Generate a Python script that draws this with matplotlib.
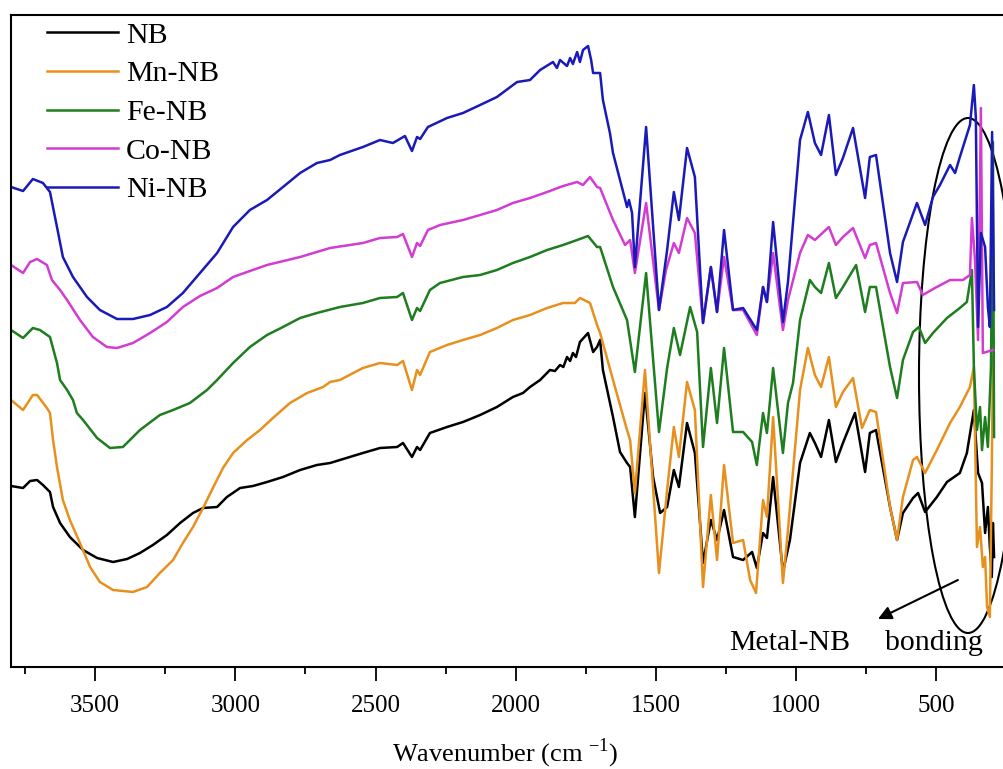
import matplotlib
matplotlib.use("Agg")
import matplotlib.pyplot as plt
from matplotlib.patches import Ellipse
from matplotlib.ticker import MultipleLocator

plt.rcParams['font.family'] = ['Liberation Serif', 'DejaVu Serif']
plt.rcParams['mathtext.fontset'] = 'custom'
plt.rcParams['mathtext.rm'] = 'Liberation Serif'

# ---------------- data (wavenumber in cm-1, transmittance in a.u.) ----------------
wn_nb = [3800, 3757, 3732, 3707, 3686, 3661, 3650, 3625, 3590, 3543, 3493, 3436, 3386, 3340,
         3294, 3244, 3197, 3151, 3115, 3065, 3030, 2983, 2937, 2887, 2830, 2769, 2709, 2662,
         2627, 2545, 2484, 2423, 2402, 2370, 2352, 2341, 2306, 2245, 2188, 2127, 2067, 2010,
         1974, 1949, 1913, 1878, 1860, 1842, 1830, 1817, 1806, 1796, 1785, 1771, 1742, 1724,
         1710, 1699, 1689, 1653, 1628, 1603, 1592, 1575, 1539, 1510, 1485, 1460, 1436, 1418,
         1389, 1361, 1332, 1304, 1282, 1257, 1225, 1189, 1157, 1140, 1118, 1104, 1082, 1047,
         1022, 986, 951, 933, 911, 883, 858, 833, 790, 754, 737, 715, 665, 640, 619, 583, 565,
         540, 498, 462, 416, 391, 366, 351, 337, 326, 316, 309, 302, 298, 294]
t_nb = [181, 179, 186, 187, 182, 175, 160, 144, 130, 117, 109, 105, 108, 114,
        122, 132, 144, 154, 159, 160, 170, 179, 181, 185, 190, 197, 202, 204,
        207, 214, 219, 220, 224, 210, 220, 217, 234, 240, 245, 252, 260, 270,
        274, 280, 287, 297, 296, 302, 300, 310, 306, 314, 310, 325, 334, 315,
        320, 327, 297, 250, 215, 204, 200, 150, 274, 190, 154, 160, 197, 180,
        244, 214, 104, 147, 127, 157, 110, 107, 115, 99, 134, 129, 190, 95,
        127, 204, 234, 224, 210, 247, 205, 224, 254, 195, 234, 237, 160, 127, 154, 169, 174,
        155, 170, 185, 194, 214, 257, 194, 184, 134, 160, 120, 90, 144, 110]

wn_mn = [3800, 3757, 3722, 3707, 3672, 3661, 3650, 3636, 3615, 3590, 3554, 3518, 3483, 3436,
         3365, 3315, 3269, 3222, 3187, 3151, 3115, 3080, 3044, 3008, 2958, 2912, 2866, 2805,
         2744, 2687, 2662, 2627, 2545, 2484, 2423, 2402, 2370, 2352, 2341, 2306, 2245, 2188,
         2127, 2067, 2010, 1949, 1888, 1831, 1789, 1771, 1735, 1710, 1699, 1653, 1603, 1592,
         1575, 1539, 1489, 1460, 1436, 1418, 1389, 1361, 1332, 1304, 1282, 1257, 1225, 1189,
         1164, 1143, 1118, 1104, 1082, 1047, 1029, 986, 958, 933, 911, 883, 858, 833, 797,
         765, 737, 715, 665, 640, 619, 583, 569, 540, 498, 451, 416, 380, 366, 355, 344, 334,
         326, 319, 309, 302, 298]
t_mn = [267, 257, 272, 272, 259, 254, 227, 200, 167, 147, 124, 100, 85, 77,
        75, 80, 94, 107, 124, 140, 159, 179, 199, 214, 227, 237, 249, 264,
        274, 280, 285, 287, 299, 304, 302, 306, 277, 297, 292, 315, 322, 327,
        332, 339, 347, 352, 359, 364, 364, 369, 364, 342, 334, 287, 237, 227,
        174, 297, 94, 177, 240, 210, 285, 257, 80, 172, 107, 202, 124, 127,
        87, 74, 167, 150, 250, 84, 137, 277, 319, 292, 280, 310, 260, 275, 289,
        239, 257, 255, 160, 127, 170, 207, 210, 194, 217, 244, 260, 280, 300, 120, 140, 100,
        110, 60, 50, 200, 310]

wn_fe = [3800, 3757, 3722, 3697, 3661, 3636, 3625, 3600, 3579, 3565, 3543, 3493, 3447, 3401,
         3340, 3269, 3222, 3162, 3101, 3065, 3008, 2948, 2887, 2830, 2769, 2709, 2627, 2545,
         2484, 2423, 2402, 2370, 2352, 2341, 2306, 2270, 2188, 2127, 2067, 2010, 1949, 1888,
         1831, 1781, 1742, 1710, 1699, 1653, 1603, 1575, 1535, 1489, 1460, 1436, 1414, 1378,
         1353, 1332, 1304, 1282, 1257, 1225, 1189, 1157, 1140, 1118, 1104, 1082, 1047, 1029,
         1011, 986, 951, 933, 911, 883, 858, 833, 786, 754, 737, 715, 665, 640, 619, 583, 562,
         540, 512, 462, 416, 391, 373, 366, 355, 344, 337, 326, 316, 305, 298, 294]
t_fe = [337, 329, 339, 337, 330, 304, 287, 277, 267, 254, 247, 229, 219, 220,
        237, 252, 257, 264, 277, 287, 304, 320, 332, 340, 349, 354, 360, 364,
        369, 370, 374, 347, 359, 356, 377, 384, 390, 392, 397, 404, 410, 417,
        422, 427, 431, 420, 420, 380, 347, 295, 394, 235, 299, 339, 312, 360,
        335, 220, 299, 244, 319, 235, 235, 225, 202, 254, 234, 299, 214, 264,
        284, 347, 387, 380, 374, 404, 369, 380, 402, 355, 380, 380, 300, 269, 307, 335, 340,
        324, 334, 349, 359, 365, 397, 300, 237, 260, 217, 250, 220, 300, 525, 230]

wn_co = [3800, 3757, 3732, 3707, 3672, 3654, 3625, 3600, 3554, 3508, 3458, 3422, 3365, 3304,
         3244, 3187, 3126, 3065, 3008, 2948, 2887, 2769, 2662, 2545, 2484, 2423, 2402, 2370,
         2352, 2341, 2313, 2270, 2188, 2127, 2067, 2010, 1949, 1888, 1831, 1781, 1760, 1735,
         1710, 1699, 1653, 1610, 1592, 1575, 1535, 1489, 1464, 1436, 1418, 1389, 1361, 1332,
         1304, 1282, 1257, 1225, 1189, 1140, 1118, 1104, 1082, 1047, 1029, 986, 958, 933, 883,
         858, 833, 797, 754, 737, 715, 665, 640, 619, 569, 548, 505, 451, 405, 380, 373, 362,
         351, 341, 334, 298]
t_co = [402, 394, 405, 408, 402, 387, 377, 367, 347, 330, 320, 319, 324, 334,
        345, 360, 371, 379, 390, 396, 402, 410, 419, 424, 429, 430, 433, 410,
        424, 421, 437, 442, 447, 452, 457, 464, 469, 475, 481, 485, 482, 490,
        480, 479, 447, 422, 427, 394, 464, 357, 397, 424, 414, 449, 434, 344,
        400, 355, 410, 357, 357, 332, 380, 365, 414, 337, 367, 414, 432, 427, 440,
        422, 430, 439, 409, 422, 424, 374, 354, 384, 385, 372, 379, 387, 387, 392, 449, 407,
        327, 559, 314, 317]

wn_ni = [3800, 3757, 3722, 3686, 3661, 3636, 3615, 3579, 3529, 3483, 3422, 3365, 3304, 3244,
         3187, 3126, 3065, 3008, 2948, 2887, 2830, 2769, 2709, 2662, 2627, 2545, 2484, 2438,
         2395, 2370, 2352, 2341, 2313, 2245, 2188, 2127, 2067, 1995, 1949, 1913, 1867, 1853,
         1842, 1817, 1806, 1796, 1781, 1771, 1760, 1742, 1731, 1724, 1699, 1689, 1664, 1653,
         1628, 1603, 1596, 1585, 1575, 1535, 1489, 1460, 1436, 1418, 1389, 1361, 1332, 1304,
         1282, 1257, 1225, 1189, 1140, 1118, 1104, 1082, 1047, 1029, 986, 958, 933, 911, 883,
         858, 833, 797, 754, 737, 715, 665, 640, 619, 569, 540, 512, 487, 451, 433, 416, 380,
         366, 359, 351, 341, 326, 316, 309, 301, 294]
t_ni = [480, 476, 488, 484, 475, 440, 410, 390, 370, 357, 348, 348, 352, 360,
        374, 394, 414, 440, 457, 467, 480, 494, 504, 507, 512, 520, 527, 524,
        531, 516, 530, 528, 540, 549, 554, 562, 570, 585, 587, 597, 605, 599,
        607, 601, 609, 603, 615, 605, 617, 621, 607, 594, 594, 567, 534, 514,
        487, 460, 467, 454, 400, 540, 357, 417, 475, 447, 519, 490, 344, 400,
        355, 437, 357, 359, 337, 380, 365, 445, 345, 385, 527, 555, 524, 512, 552,
        492, 509, 539, 469, 510, 512, 414, 385, 425, 464, 442, 470, 482, 502, 494, 510, 542,
        582, 550, 340, 434, 420, 360, 340, 535, 357]

series = [
    ("NB", wn_nb, t_nb, "#000000"),
    ("Mn-NB", wn_mn, t_mn, "#E8901E"),
    ("Fe-NB", wn_fe, t_fe, "#1E7D1E"),
    ("Co-NB", wn_co, t_co, "#D23CD2"),
    ("Ni-NB", wn_ni, t_ni, "#1A1AB8"),
]

# ---------------- figure ----------------
W, H = 1004, 769
fig = plt.figure(figsize=(W / 100, H / 100), dpi=100)
ax = fig.add_axes([11 / W, 1 - 667 / H, (1006.4 - 11) / W, (667 - 15) / H])

for name, wn, t, c in series:
    ax.plot(wn, t, color=c, lw=1.8, label=name)

ax.set_xlim(3800, 250)
ax.set_ylim(0, 652)

ax.xaxis.set_major_locator(MultipleLocator(500))
ax.xaxis.set_minor_locator(MultipleLocator(250))
ax.tick_params(axis='x', which='major', direction='out', length=10, width=1.3,
               labelsize=18, pad=10)
ax.tick_params(axis='x', which='minor', direction='out', length=5, width=1.3)
ax.tick_params(axis='y', which='both', left=False, labelleft=False)
ax.set_xticks([3500, 3000, 2500, 2000, 1500, 1000, 500])
for s in ax.spines.values():
    s.set_linewidth(1.5)

fig.text(505 / W, 1 - 761 / H, r'Wavenumber (cm $^{\mathregular{-1}}$)', fontsize=19,
         ha='center', va='baseline')

leg = ax.legend(loc='upper left', bbox_to_anchor=(47 / W, 1 - 22 / H),
                bbox_transform=fig.transFigure, frameon=False, fontsize=21.5,
                handlelength=2.37, handletextpad=0.27, labelspacing=0.39,
                borderpad=0, borderaxespad=0)
for ln in leg.get_lines():
    ln.set_linewidth(1.8)

# annotation: ellipse, arrow and text
ax.add_patch(Ellipse((387, 291.5), width=349.5, height=515, fill=False,
                     ec='black', lw=1.5))
ax.annotate('', xy=(708, 48), xytext=(423, 87),
            arrowprops=dict(arrowstyle='-|>', color='black', lw=1.5,
                            mutation_scale=20, shrinkA=0, shrinkB=0))
ax.text(1022, 24, 'Metal-NB', fontsize=21.5, ha='center', va='center')
ax.text(508, 24, 'bonding', fontsize=21.5, ha='center', va='center')

fig.savefig('out.png', dpi=100)
